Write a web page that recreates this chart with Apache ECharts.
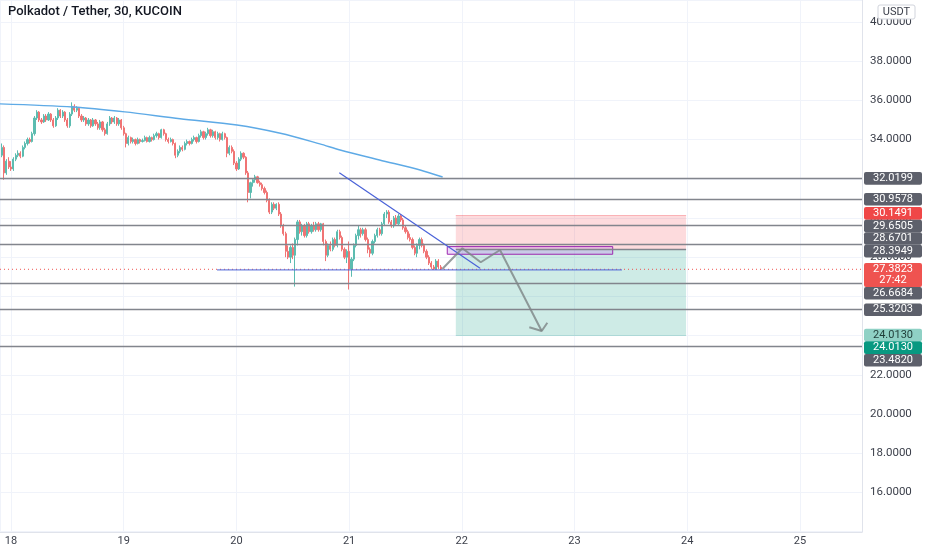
<!DOCTYPE html>
<html><head><meta charset="utf-8">
<script src="https://cdn.jsdelivr.net/npm/echarts@6/dist/echarts.min.js"></script>
<style>html,body{margin:0;padding:0;background:#fff}#c{width:932px;height:550px}</style>
</head><body><div id="c"></div>
<script>
const chartTitle = 'Polkadot / Tether, 30, KUCOIN';
const currencyTag = 'USDT';
// 30-minute bars, time in days of the month
const firstBarDay = 18 - 4 / 48;
const barStepDay = 1 / 48;
// [open, close, low, high]
const candles = [
[33.2,33.6,33.1,33.8],[33.6,32.3,31.95,33.7],[32.3,32.9,32.2,33.0],[32.9,32.6,32.5,33.1],
[32.6,32.5,32.4,32.9],[32.5,33.0,32.4,33.1],[33.0,33.2,32.9,33.3],[33.2,33.3,33.1,33.45],
[33.3,33.15,33.05,33.4],[33.15,33.6,33.1,33.7],[33.6,33.8,33.5,33.9],[33.8,34.0,33.7,34.1],
[34.0,33.9,33.8,34.1],[33.9,34.3,33.85,34.4],[34.3,35.1,34.2,35.2],[35.1,35.4,35.0,35.5],
[35.4,35.0,34.9,35.45],[35.0,34.9,34.8,35.1],[34.9,35.2,34.85,35.3],[35.2,35.0,34.9,35.3],
[35.0,35.3,34.95,35.4],[35.3,35.0,34.9,35.35],[35.0,34.7,34.6,35.1],[34.7,35.1,34.65,35.2],
[35.1,35.5,35.0,35.6],[35.5,35.2,35.1,35.55],[35.2,35.4,35.1,35.5],[35.4,35.0,34.9,35.45],
[35.0,34.7,34.6,35.1],[34.7,35.3,34.6,35.4],[35.3,35.7,35.2,35.9],[35.7,35.5,35.4,35.8],
[35.5,35.6,35.4,35.7],[35.6,35.2,35.1,35.65],[35.2,35.0,34.9,35.3],[35.0,35.1,34.9,35.2],
[35.1,34.8,34.7,35.15],[34.8,35.0,34.7,35.1],[35.0,34.7,34.6,35.05],[34.7,35.0,34.65,35.1],
[35.0,34.8,34.7,35.05],[34.8,34.6,34.5,34.9],[34.6,34.9,34.5,35.0],[34.9,34.5,34.4,34.95],
[34.5,34.3,34.2,34.6],[34.3,34.8,34.25,34.9],[34.8,35.1,34.7,35.2],[35.1,34.9,34.8,35.15],
[34.9,35.1,34.8,35.2],[35.1,34.8,34.7,35.15],[34.8,35.0,34.7,35.1],[35.0,34.6,34.5,35.05],
[34.6,34.3,34.2,34.7],[34.3,33.8,33.6,34.35],[33.8,34.1,33.7,34.2],[34.1,33.9,33.8,34.15],
[33.9,34.0,33.8,34.1],[34.0,33.8,33.7,34.05],[33.8,34.0,33.75,34.1],[34.0,33.9,33.8,34.05],
[33.9,33.95,33.85,34.05],[33.95,34.1,33.9,34.2],[34.1,33.9,33.85,34.15],[33.9,34.1,33.85,34.2],
[34.1,34.0,33.9,34.15],[34.0,34.2,33.95,34.3],[34.2,34.3,34.1,34.4],[34.3,34.1,34.0,34.35],
[34.1,34.5,34.05,34.55],[34.5,34.3,34.2,34.55],[34.3,34.0,33.9,34.35],[34.0,33.9,33.8,34.1],
[33.9,34.0,33.85,34.1],[34.0,33.8,33.7,34.05],[33.8,33.2,33.05,33.85],[33.2,33.4,33.1,33.5],
[33.4,33.6,33.3,33.7],[33.6,33.5,33.4,33.7],[33.5,33.8,33.45,33.9],[33.8,33.9,33.7,34.0],
[33.9,33.8,33.7,33.95],[33.8,34.0,33.75,34.1],[34.0,34.1,33.9,34.2],[34.1,33.9,33.8,34.15],
[33.9,34.2,33.85,34.3],[34.2,34.4,34.1,34.5],[34.4,34.1,34.0,34.45],[34.1,34.3,34.0,34.4],
[34.3,34.5,34.2,34.6],[34.5,34.2,34.1,34.55],[34.2,34.4,34.1,34.5],[34.4,34.1,34.0,34.45],
[34.1,34.3,34.0,34.4],[34.3,34.0,33.9,34.35],[34.0,34.3,33.95,34.4],[34.3,34.1,34.0,34.35],
[34.1,33.3,33.1,34.15],[33.3,33.6,33.2,33.7],[33.6,33.4,33.3,33.7],[33.4,32.8,32.7,33.5],
[32.8,32.5,32.4,32.9],[32.5,33.0,32.45,33.1],[33.0,33.3,32.9,33.4],[33.3,33.1,33.0,33.35],
[33.1,32.3,32.2,33.15],[32.3,31.3,30.8,32.4],[31.3,31.8,31.0,31.85],[31.8,31.95,31.6,32.0],
[31.95,32.1,31.8,32.2],[32.1,31.8,31.75,32.15],[31.8,31.7,31.6,31.9],[31.7,31.5,31.4,31.8],
[31.5,31.3,31.2,31.6],[31.3,30.9,30.8,31.4],[30.9,30.3,30.2,31.0],[30.3,30.7,30.2,30.8],
[30.7,30.5,30.4,30.8],[30.5,30.7,30.4,30.75],[30.7,30.2,30.1,30.8],[30.2,29.6,29.5,30.3],
[29.6,29.2,29.1,29.7],[29.2,28.3,28.0,29.3],[28.3,28.0,27.9,28.6],[28.0,28.5,27.7,28.6],
[28.5,28.1,27.9,28.7],[28.1,28.9,26.5,29.0],[28.9,29.8,28.6,29.9],[29.8,29.3,29.2,29.9],
[29.3,29.6,29.1,29.7],[29.6,29.1,29.0,29.7],[29.1,29.7,29.0,29.8],[29.7,29.3,29.2,29.8],
[29.3,29.6,29.2,29.7],[29.6,29.4,29.3,29.8],[29.4,29.7,29.3,29.8],[29.7,29.4,29.3,29.8],
[29.4,29.7,29.3,29.75],[29.7,28.8,28.6,29.75],[28.8,28.1,27.8,28.9],[28.1,28.6,28.0,28.7],
[28.6,28.4,28.3,28.8],[28.4,28.9,28.3,29.0],[28.9,28.6,28.5,29.0],[28.6,29.3,28.5,29.4],
[29.3,29.0,28.9,29.4],[29.0,28.4,28.3,29.1],[28.4,28.0,27.9,28.5],[28.0,28.3,27.7,28.4],
[28.3,27.4,26.35,28.8],[27.4,27.9,27.0,28.0],[27.9,28.6,27.8,28.7],[28.6,29.1,28.5,29.2],
[29.1,29.4,28.9,29.6],[29.4,29.2,29.0,29.5],[29.2,29.4,29.1,29.5],[29.4,28.9,28.8,29.5],
[28.9,28.4,28.2,29.0],[28.4,28.2,28.0,28.5],[28.2,28.8,28.1,28.9],[28.8,29.1,28.7,29.2],
[29.1,29.4,29.0,29.5],[29.4,29.2,29.1,29.5],[29.2,29.7,29.1,29.8],[29.7,30.2,29.6,30.3],
[30.2,30.3,30.0,30.4],[30.3,29.8,29.7,30.4],[29.8,29.6,29.5,29.9],[29.6,30.0,29.5,30.1],
[30.0,29.7,29.6,30.15],[29.7,30.1,29.6,30.2],[30.1,29.9,29.8,30.2],[29.9,29.5,29.4,30.0],
[29.5,29.3,29.2,29.6],[29.3,29.0,28.9,29.4],[29.0,28.9,28.8,29.2],[28.9,28.5,28.4,29.0],
[28.5,28.2,28.1,28.6],[28.2,28.6,28.0,28.7],[28.6,28.9,28.4,29.0],[28.9,28.6,28.5,29.0],
[28.6,28.3,28.2,28.7],[28.3,28.0,27.9,28.4],[28.0,27.7,27.6,28.1],[27.7,27.5,27.4,27.8],
[27.5,27.4,27.35,27.6],[27.4,27.8,27.35,27.9],[27.8,27.5,27.4,27.9],[27.5,27.3823,27.35,27.6]
];
// moving average line
const maDays   = [17.902, 18.55, 19.01, 19.5, 20.005, 20.39, 20.74, 20.92, 21.27, 21.63, 21.83];
const maValues = [35.82, 35.66, 35.41, 35.06, 34.74, 34.32, 33.78, 33.47, 32.96, 32.45, 32.09];
// drawings
const trendDays = [20.913, 22.162];
const trendValues = [32.31, 27.43];
const supportDays = [19.828, 23.421];
const supportValues = [27.35, 27.35];
const levelLines = [32.0199, 30.9578, 29.6505, 28.6701, 26.6684, 25.3203, 23.4820];
const positionDays = [21.947, 23.99];
const stopPrice = 30.1491, entryPrice = 28.3949, targetPrice = 24.0130;
const zoneDays = [21.871, 23.339];
const zoneValues = [28.54, 28.15];
const pathDays = [21.827, 22.005, 22.168, 22.339, 22.709];
const pathValues = [27.398, 28.454, 27.740, 28.367, 24.235];
const arrowDays = [22.599, 22.709, 22.759];
const arrowValues = [24.423, 24.235, 24.658];
const lastPrice = 27.3823;
const countdown = '27:42';

const pair = (xs, ys) => xs.map((x, i) => [x, ys[i]]);
const candleData = candles.map((c, i) => [firstBarDay + i * barStepDay, c[0], c[1], c[2], c[3]]);

const chart = echarts.init(document.getElementById('c'), null, {renderer: 'canvas'});
const FONT = 'Roboto, "Noto Sans", sans-serif';
const option = {
  animation: false,
  backgroundColor: '#ffffff',
  grid: {left: 0, right: 70, top: 0, bottom: 18, containLabel: false, outerBoundsMode: 'none'},
  xAxis: {
    type: 'value', min: 17.9024, max: 25.551, minInterval: 1, maxInterval: 1,
    axisLine: {show: true, lineStyle: {color: '#e0e3eb'}},
    axisTick: {show: false},
    axisLabel: {color: '#3b3f4a', fontSize: 11, fontFamily: FONT, margin: 4,
      formatter: v => Math.abs(v - Math.round(v)) < 1e-6 ? String(Math.round(v)) : ''},
    splitLine: {show: true, lineStyle: {color: '#f0f3fa', width: 1}}
  },
  yAxis: {
    type: 'value', position: 'right', min: 13.98, max: 41.12, minInterval: 2, maxInterval: 2,
    axisLine: {show: true, lineStyle: {color: '#e0e3eb'}},
    axisTick: {show: false},
    axisLabel: {color: '#3b3f4a', fontSize: 11.5, fontFamily: FONT, margin: 8,
      formatter: v => (Math.abs(v - Math.round(v)) < 1e-6 && v >= 15 && v <= 40.5) ? v.toFixed(4) : ''},
    splitLine: {show: true, lineStyle: {color: '#f0f3fa', width: 1}}
  },
  series: [
    {
      type: 'line', name: 'zones', data: [[positionDays[0], entryPrice]], showSymbol: false, symbolSize: 0, z: 1,
      lineStyle: {width: 0}, silent: true,
      markArea: {silent: true, data: [
        [{coord: [positionDays[0], stopPrice], itemStyle: {color: 'rgba(242,54,69,0.18)'}}, {coord: [positionDays[1], entryPrice]}],
        [{coord: [positionDays[0], entryPrice], itemStyle: {color: 'rgba(8,153,129,0.2)'}}, {coord: [positionDays[1], targetPrice]}]
      ]},
      markLine: {silent: true, symbol: 'none', label: {show: false}, animation: false, data: [
        ...levelLines.map(v => ({yAxis: v, lineStyle: {color: '#82858d', width: 1.3, type: 'solid'}})),
        [{coord: [positionDays[0], entryPrice], lineStyle: {color: '#82858d', width: 1.3, type: 'solid'}}, {coord: [positionDays[1], entryPrice]}],
        [{coord: [positionDays[0], stopPrice], lineStyle: {color: 'rgba(242,54,69,0.25)', width: 1, type: 'solid'}}, {coord: [positionDays[1], stopPrice]}],
        [{coord: [positionDays[0], targetPrice], lineStyle: {color: 'rgba(8,153,129,0.25)', width: 1, type: 'solid'}}, {coord: [positionDays[1], targetPrice]}]
      ]}
    },
    {
      type: 'candlestick', name: 'DOTUSDT', data: candleData, z: 3,
      dimensions: ['day', 'open', 'close', 'lowest', 'highest'],
      encode: {x: 0, y: [1, 2, 3, 4]},
      barWidth: 1.7,
      itemStyle: {color: '#5cbcb0', color0: '#f07474', borderColor: '#5cbcb0', borderColor0: '#f07474', borderWidth: 1}
    },
    {
      type: 'line', name: 'MA', data: pair(maDays, maValues), smooth: 0.3, showSymbol: false, z: 4,
      lineStyle: {color: '#5eaae6', width: 1.4}
    },
    {
      type: 'line', name: 'price', data: [[17.9024, lastPrice], [25.551, lastPrice]], showSymbol: false, z: 4,
      lineStyle: {color: '#ef5350', width: 1, type: [1, 3]}
    },
    {
      type: 'line', name: 'support', data: pair(supportDays, supportValues), showSymbol: false, z: 5,
      lineStyle: {color: '#4a62d8', width: 1}
    },
    {
      type: 'line', name: 'trend', data: pair(trendDays, trendValues), showSymbol: false, z: 5,
      lineStyle: {color: '#4a62d8', width: 1.2}
    },
    {
      type: 'line', name: 'zone', data: [[zoneDays[0], zoneValues[0]]], showSymbol: false, z: 5, lineStyle: {width: 0},
      markArea: {silent: true, data: [[
        {coord: [zoneDays[0], zoneValues[0]], itemStyle: {color: 'rgba(190,120,235,0.28)', borderColor: '#9c27b0', borderWidth: 1}},
        {coord: [zoneDays[1], zoneValues[1]]}
      ]]}
    },
    {
      type: 'line', name: 'path', data: pair(pathDays, pathValues), showSymbol: false, z: 6,
      lineStyle: {color: 'rgba(125,132,134,0.8)', width: 2}
    },
    {
      type: 'line', name: 'arrow', data: pair(arrowDays, arrowValues), showSymbol: false, z: 6,
      lineStyle: {color: 'rgba(125,132,134,0.8)', width: 2}
    }
  ]
};
chart.setOption(option);

// price-scale labels
const priceLabels = [
  {v: 32.0199, bg: '#5d606b', fg: '#ffffff', w: 1},
  {v: 30.9578, bg: '#5d606b', fg: '#ffffff', w: 1},
  {v: stopPrice, bg: '#f04747', fg: '#ffffff', w: 100},
  {v: 29.6505, bg: '#5d606b', fg: '#ffffff', w: 1},
  {v: 28.6701, bg: '#5d606b', fg: '#ffffff', w: 1},
  {v: entryPrice, bg: '#5d606b', fg: '#ffffff', w: 100},
  {v: lastPrice, bg: '#ef5350', fg: '#ffffff', w: 1000, sub: countdown},
  {v: 26.6684, bg: '#5d606b', fg: '#ffffff', w: 1},
  {v: 25.3203, bg: '#5d606b', fg: '#ffffff', w: 1},
  {v: targetPrice, bg: '#8fd1c5', fg: '#1f3d38', w: 100},
  {v: targetPrice, bg: '#089981', fg: '#ffffff', w: 1},
  {v: 23.4820, bg: '#5d606b', fg: '#ffffff', w: 1}
];
const H = 12.6;
priceLabels.forEach((l, i) => {
  l.h = l.sub ? 24 : H;
  l.d = chart.convertToPixel({yAxisIndex: 0}, l.v) - H / 2;
  l.i = i;
});
const sorted = priceLabels.slice().sort((a, b) => a.d - b.d || a.i - b.i);
let clusters = [];
function place(c) {
  let off = 0, num = 0, den = 0;
  c.items.forEach(it => { it.off = off; num += it.w * (it.d - off); den += it.w; off += it.h; });
  c.top = num / den; c.h = off;
}
sorted.forEach(it => {
  const c = {items: [it]}; place(c); clusters.push(c);
  while (clusters.length > 1) {
    const a = clusters[clusters.length - 2], b = clusters[clusters.length - 1];
    if (a.top + a.h > b.top) {
      const m = {items: a.items.concat(b.items)}; place(m);
      clusters.splice(clusters.length - 2, 2, m);
    } else break;
  }
});
const graphics = [];
clusters.forEach(c => c.items.forEach(it => {
  const top = c.top + it.off;
  graphics.push({type: 'rect', z: 100, shape: {x: 864, y: top, width: 58, height: it.h, r: 2},
    style: {fill: it.bg}});
  graphics.push({type: 'text', z: 101, x: 893, y: top + it.h / 2,
    style: {text: it.sub ? it.v.toFixed(4) + '\n' + it.sub : it.v.toFixed(4), fill: it.fg,
      font: '11px ' + FONT, align: 'center', verticalAlign: 'middle', lineHeight: 11}});
}));
graphics.push({type: 'text', z: 101, x: 8, y: 5,
  style: {text: chartTitle, fill: '#131722', font: '500 13px ' + FONT}});
graphics.push({type: 'rect', z: 100, shape: {x: 878, y: 5, width: 37, height: 14, r: 2},
  style: {fill: '#ffffff', stroke: '#d1d4dc', lineWidth: 1}});
graphics.push({type: 'text', z: 101, x: 896.5, y: 12,
  style: {text: currencyTag, fill: '#3b3f4a', font: '11px ' + FONT, align: 'center', verticalAlign: 'middle'}});
chart.setOption({graphic: graphics});
</script>
</body></html>
